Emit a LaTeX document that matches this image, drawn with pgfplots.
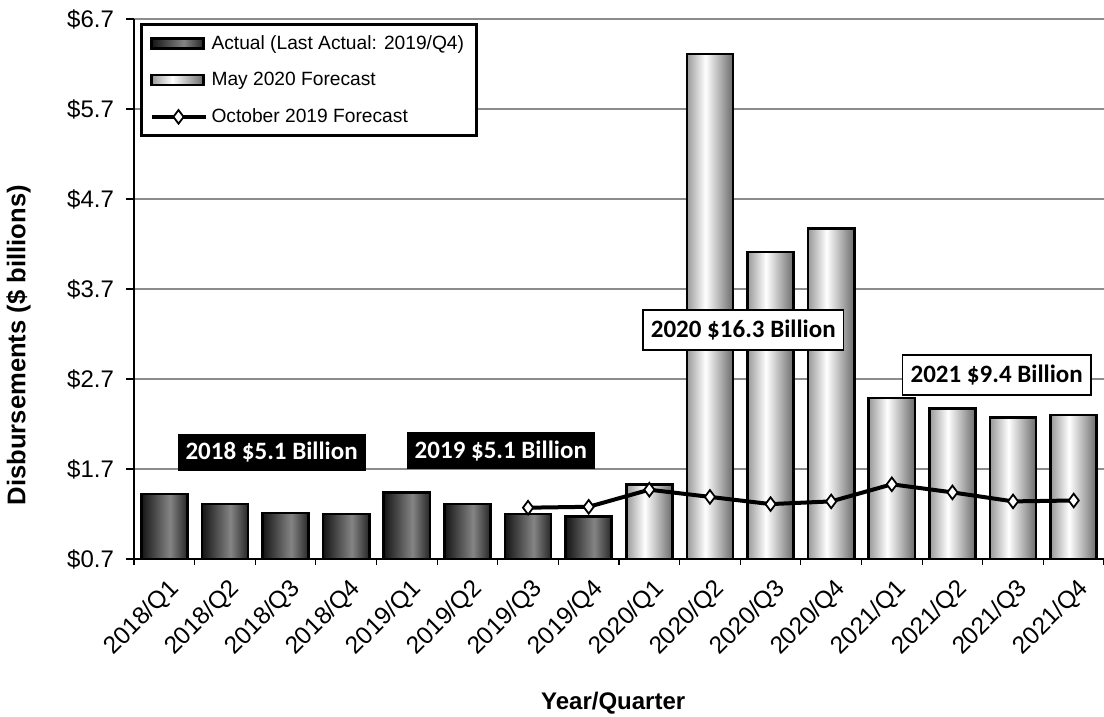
\documentclass[border=0pt]{standalone}
\usepackage{pgfplots}
\pgfplotsset{compat=1.18}
\usepackage{fontspec}
\setmainfont{Liberation Sans}
\newfontfamily\calib{Carlito}

\pgfdeclarehorizontalshading{actualshade}{100bp}{color(0bp)=(black!92); color(25bp)=(black!92); color(56bp)=(black!48); color(75bp)=(black!85); color(100bp)=(black!85)}
\pgfdeclarehorizontalshading{fcstshade}{100bp}{color(0bp)=(black!40); color(25bp)=(black!40); color(45bp)=(white); color(75bp)=(black!58); color(100bp)=(black!58)}

\pgfplotsset{
  linelegend/.style={legend image code/.code={\draw[mark repeat=2, mark phase=2, ##1] plot coordinates {(0pt,0pt) (13.5pt,0pt) (27pt,0pt)};}},
  actlegend/.style={legend image code/.code={\path[draw=black, line width=1.2pt, shading=actualshade, shade] (0pt,-2.5pt) rectangle (26pt,2.5pt);}},
  fcstlegend/.style={legend image code/.code={\path[draw=black, line width=1.2pt, shading=fcstshade, shade] (0pt,-2.5pt) rectangle (26pt,2.5pt);}},
  actbar/.style={ybar, bar width=0.76, bar shift=0pt, draw=black, line width=1.3pt, shading=actualshade, shade, actlegend},
  fcstbar/.style={ybar, bar width=0.76, bar shift=0pt, draw=black, line width=1.3pt, shading=fcstshade, shade, fcstlegend},
}

\begin{document}
\begin{tikzpicture}
\useasboundingbox (0,0) rectangle (552pt,358.5pt);
\begin{axis}[
  at={(67pt,79pt)}, anchor=south west,
  scale only axis, width=485pt, height=270pt,
  xmin=-0.5, xmax=15.5, ymin=0.7, ymax=6.7,
  axis lines=left, axis line style={-, line width=0.6pt},
  xtick={0,...,15},
  xticklabels={2018/Q1,2018/Q2,2018/Q3,2018/Q4,2019/Q1,2019/Q2,2019/Q3,2019/Q4,2020/Q1,2020/Q2,2020/Q3,2020/Q4,2021/Q1,2021/Q2,2021/Q3,2021/Q4},
  major x tick style={draw=none},
  minor xtick={-0.5,0.5,...,15.5},
  minor tick length=3pt,
  ytick={0.7,1.7,2.7,3.7,4.7,5.7,6.7},
  yticklabels={\$0.7,\$1.7,\$2.7,\$3.7,\$4.7,\$5.7,\$6.7},
  major tick length=4pt,
  tick align=outside,
  tick style={black, line width=0.6pt},
  ymajorgrids, grid style={black!45, line width=1pt},
  /pgf/number format/assume math mode=true,
  yticklabel style={font=\fontsize{12}{14}\selectfont, xshift=-2.5pt},
  xticklabel style={font=\fontsize{12.2}{14}\selectfont, rotate=45, anchor=north east, xshift=1pt, yshift=-1pt},
  xlabel={Year/Quarter},
  xlabel style={at={(axis description cs:0.494,-0.267)}, anchor=center, font=\bfseries\fontsize{12}{14}\selectfont},
  ylabel={Disbursements (\$ billions)},
  ylabel style={at={(axis description cs:-0.119,0.396)}, anchor=center, font=\bfseries\fontsize{12.8}{14}\selectfont},
  legend style={at={(axis description cs:0.0062,0.9926)}, anchor=north west,
    font=\fontsize{9.6}{11}\selectfont, draw=black, line width=1.5pt,
    inner xsep=4pt, inner ysep=3.3pt, row sep=6pt, cells={anchor=west},
    /tikz/every even column/.append style={column sep=2pt}},
]
\addplot[actbar] coordinates {(0,1.42)};
\addlegendentry{Actual (Last Actual: 2019/Q4)}
\addplot[actbar, forget plot] coordinates {(1,1.31)};
\addplot[actbar, forget plot] coordinates {(2,1.21)};
\addplot[actbar, forget plot] coordinates {(3,1.20)};
\addplot[actbar, forget plot] coordinates {(4,1.44)};
\addplot[actbar, forget plot] coordinates {(5,1.31)};
\addplot[actbar, forget plot] coordinates {(6,1.20)};
\addplot[actbar, forget plot] coordinates {(7,1.17)};
\addplot[fcstbar] coordinates {(8,1.53)};
\addlegendentry{May 2020 Forecast}
\addplot[fcstbar, forget plot] coordinates {(9,6.31)};
\addplot[fcstbar, forget plot] coordinates {(10,4.11)};
\addplot[fcstbar, forget plot] coordinates {(11,4.37)};
\addplot[fcstbar, forget plot] coordinates {(12,2.49)};
\addplot[fcstbar, forget plot] coordinates {(13,2.37)};
\addplot[fcstbar, forget plot] coordinates {(14,2.27)};
\addplot[fcstbar, forget plot] coordinates {(15,2.30)};
\addplot[black, line width=2pt, mark=diamond*, mark size=3.4pt, mark options={fill=white, draw=black, line width=0.9pt}, linelegend]
  coordinates {(6,1.27)(7,1.28)(8,1.47)(9,1.39)(10,1.31)(11,1.34)(12,1.53)(13,1.44)(14,1.34)(15,1.35)};
\addlegendentry{October 2019 Forecast}

\node[fill=black, text=white, font=\calib\bfseries\fontsize{12.5}{14}\selectfont, inner xsep=4pt, minimum height=18.5pt] at (axis cs:1.77,1.886) {2018 \$5.1 Billion};
\node[fill=black, text=white, font=\calib\bfseries\fontsize{12.5}{14}\selectfont, inner xsep=4pt, minimum height=18.5pt] at (axis cs:5.55,1.90) {2019 \$5.1 Billion};
\node[fill=white, draw=black, line width=0.8pt, font=\calib\bfseries\fontsize{12.5}{14}\selectfont, inner xsep=4pt, minimum height=20pt] at (axis cs:9.55,3.244) {2020 \$16.3 Billion};
\node[fill=white, draw=black, line width=0.8pt, font=\calib\bfseries\fontsize{12.5}{14}\selectfont, inner xsep=4pt, minimum height=20pt] at (axis cs:13.73,2.744) {2021 \$9.4 Billion};
\end{axis}
\end{tikzpicture}
\end{document}
